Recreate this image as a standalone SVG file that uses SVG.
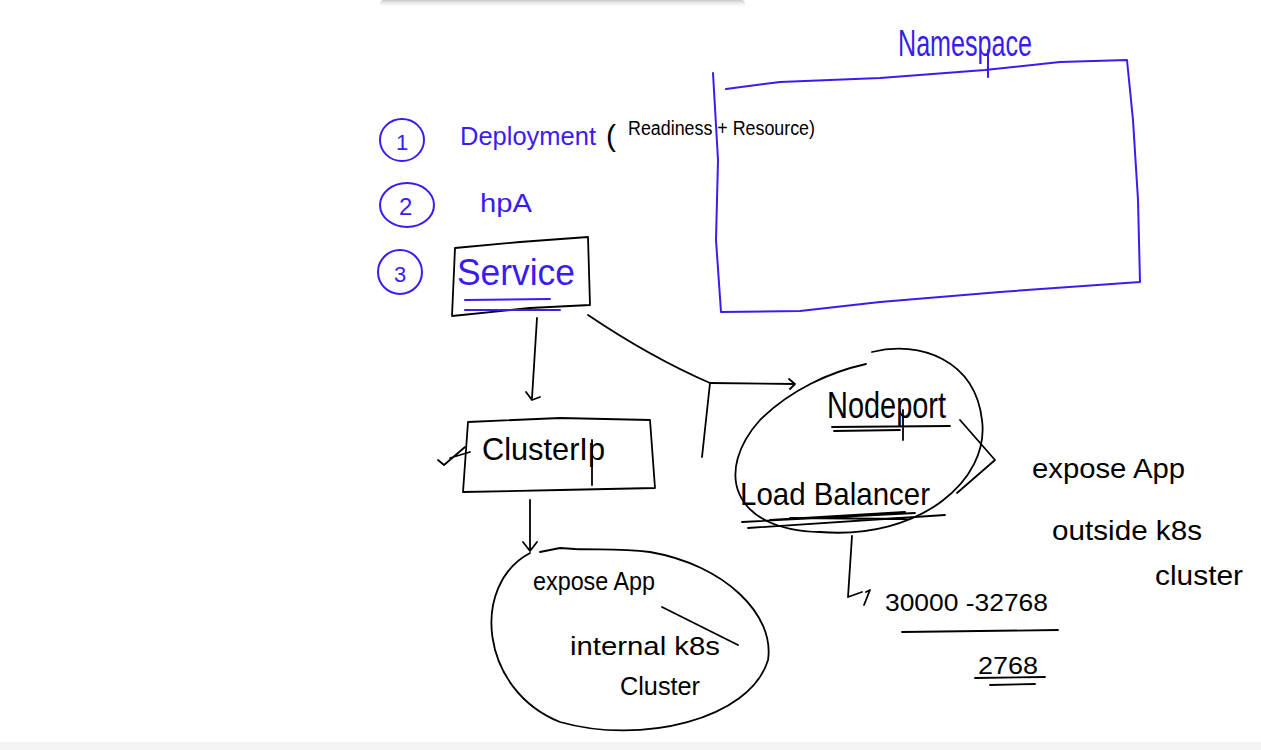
<svg xmlns="http://www.w3.org/2000/svg" width="1261" height="750" viewBox="0 0 1261 750">
<defs>
<style>
.k{fill:none;stroke:#000;stroke-width:1.8;stroke-linecap:round;stroke-linejoin:round}
.b{fill:none;stroke:#3a1cf0;stroke-width:2;stroke-linecap:round;stroke-linejoin:round}
.tk{font-family:"Liberation Sans",Arial,sans-serif;fill:#000}
.tb{font-family:"Liberation Sans",Arial,sans-serif;fill:#3a1cf0}
</style>
<linearGradient id="sh" x1="0" y1="0" x2="0" y2="1">
<stop offset="0" stop-color="#c8c8c8"/>
<stop offset="1" stop-color="#fff" stop-opacity="0"/>
</linearGradient>
</defs>
<rect width="1261" height="750" fill="#fff"/>
<rect x="380" y="0" width="365" height="8" fill="url(#sh)" rx="4"/>
<rect x="0" y="742" width="1261" height="8" fill="#f4f4f4"/>

<g id="namespace">
<path class="b" d="M713 73 L718 160 L716 240 L721 312 L800 311 L880 302 L1000 292 L1140 282 L1138 200 L1133 120 L1127 60 L1060 62 L985 70 L880 78 L780 82 L726 89"/>
<path class="b" d="M988 50 L988 77"/>
<text class="tb" x="898" y="56" font-size="36" textLength="134" lengthAdjust="spacingAndGlyphs">Namespace</text>
</g>

<g id="step1">
<ellipse class="b" cx="402" cy="140" rx="22" ry="21"/>
<text class="tb" x="396" y="150" font-size="22">1</text>
<text class="tb" x="460" y="145" font-size="26" textLength="136" lengthAdjust="spacingAndGlyphs">Deployment</text>
<text class="tk" x="606" y="135" font-size="20"><tspan font-size="30" dy="11">(</tspan><tspan x="628" dy="-11" textLength="187" lengthAdjust="spacingAndGlyphs">Readiness + Resource)</tspan></text>
</g>

<g id="step2">
<ellipse class="b" cx="407" cy="205" rx="27" ry="22"/>
<text class="tb" x="399" y="215" font-size="24">2</text>
<text class="tb" x="480" y="212" font-size="26" textLength="52" lengthAdjust="spacingAndGlyphs">hpA</text>
</g>

<g id="step3">
<ellipse class="b" cx="400" cy="272" rx="22" ry="22"/>
<text class="tb" x="394" y="282" font-size="22">3</text>
</g>

<g id="service">
<path class="k" d="M455 248 L520 242 L588 237 L590 305 L530 308 L452 316 Z"/>
<text class="tb" x="457" y="285" font-size="36" textLength="118" lengthAdjust="spacingAndGlyphs">Service</text>
<path class="b" d="M465 300 L550 299 M465 310 L560 310"/>
</g>

<g id="clusterip">
<path class="k" d="M468 422 L560 418 L650 420 L655 488 L560 490 L463 492 Z"/>
<path class="k" d="M438 460 L444 465 L465 447 M450 458 L470 452"/>
<text class="tk" x="482" y="460" font-size="32" textLength="123" lengthAdjust="spacingAndGlyphs">ClusterIp</text>
<path class="k" d="M592 440 L592 485"/>
</g>

<g id="internal">
<path class="k" d="M530 553 C470 585 480 690 560 722 C640 745 750 720 768 660 C775 615 725 565 650 552 C620 548 600 550 575 549 L560 548 L540 552"/>
<text class="tk" x="533" y="590" font-size="26" textLength="122" lengthAdjust="spacingAndGlyphs">expose App</text>
<text class="tk" x="570" y="655" font-size="26" textLength="150" lengthAdjust="spacingAndGlyphs">internal k8s</text>
<path class="k" d="M662 607 L738 645"/>
<text class="tk" x="620" y="695" font-size="26" textLength="80" lengthAdjust="spacingAndGlyphs">Cluster</text>
</g>

<g id="nodeport">
<path class="k" d="M872 352 C920 340 975 360 982 420 C990 480 920 540 820 532 C730 530 715 470 760 420 C790 390 830 372 866 364"/>
<text class="tk" x="827" y="418" font-size="36" textLength="119" lengthAdjust="spacingAndGlyphs">Nodeport</text>
<path class="k" d="M832 427 L950 426 M834 431 L900 430 M903 410 L903 440"/>
<text class="tk" x="740" y="505" font-size="32" textLength="190" lengthAdjust="spacingAndGlyphs">Load Balancer</text>
<path class="k" d="M742 522 L915 513 M770 520 L905 512 M748 528 L945 515 M790 518 L910 519"/>
</g>

<g id="outside">
<path class="k" d="M960 420 L995 460 L957 493"/>
<text class="tk" x="1032" y="478" font-size="28" textLength="153" lengthAdjust="spacingAndGlyphs">expose App</text>
<text class="tk" x="1052" y="540" font-size="28" textLength="150" lengthAdjust="spacingAndGlyphs">outside k8s</text>
<text class="tk" x="1155" y="585" font-size="28" textLength="88" lengthAdjust="spacingAndGlyphs">cluster</text>
</g>

<g id="range">
<text class="tk" x="885" y="611" font-size="24" textLength="163" lengthAdjust="spacingAndGlyphs">30000 -32768</text>
<path class="k" d="M902 632 L1058 630"/>
<text class="tk" x="978" y="674" font-size="24" textLength="60" lengthAdjust="spacingAndGlyphs">2768</text>
<path class="k" d="M975 678 L1045 677 M990 685 L1035 684"/>
</g>

<g id="connectors">
<path class="k" d="M537 318 L532 398 M526 392 L532 400 L540 397"/>
<path class="k" d="M588 315 C640 350 680 370 710 383 L795 384 M789 379 L795 384 L790 389"/>
<path class="k" d="M710 383 L702 457"/>
<path class="k" d="M530 500 L530 550 M523 542 L530 551 L537 542"/>
<path class="k" d="M852 536 L848 597 L862 592 M866 592 L870 590 L864 605"/>
</g>
</svg>
